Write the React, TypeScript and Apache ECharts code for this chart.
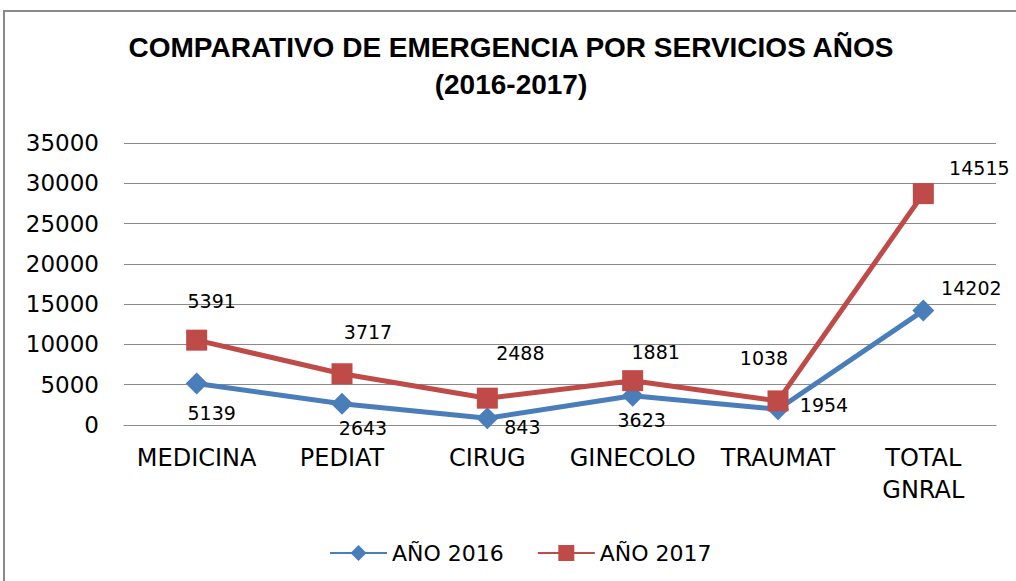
import React, { useEffect, useRef } from "react";
import * as echarts from "echarts";

const categories = ["MEDICINA", "PEDIAT", "CIRUG", "GINECOLO", "TRAUMAT", "TOTAL\nGNRAL"];
const year2016 = [5139, 2643, 843, 3623, 1954, 14202];
const year2017 = [5391, 3717, 2488, 1881, 1038, 14515];
const seriesNames = ["AÑO 2016", "AÑO 2017"];
const yTicks = { min: 0, max: 35000, interval: 5000 };

// label offsets (layout only)
const offs2016 = [[15, 29], [21, 24], [35, 9], [9, 24], [46, -4], [48, -23]];
const offs2017 = [[15, -39], [26, -42], [33, -45], [23, -29], [-14, -43], [56, -26]];

const BLUE = "#4A7EBB";
const RED = "#BE4B48";
const FONT = "DejaVu Sans";

export default function App() {
  const ref = useRef<HTMLDivElement>(null);
  useEffect(() => {
    const chart = echarts.init(ref.current!, null, { renderer: "svg" });
    const mk = (vals: number[], offs: number[][]) =>
      vals.map((v, i) => ({
        value: v,
        label: { offset: offs[i] },
      }));
    chart.setOption({
      animation: false,
      backgroundColor: "#ffffff",
      graphic: [
        {
          type: "rect",
          shape: { x: 4, y: 11, width: 1100, height: 700 },
          style: { fill: "none", stroke: "#8a8a8a", lineWidth: 2 },
          silent: true,
        },
      ],
      title: {
        text: "COMPARATIVO DE EMERGENCIA POR SERVICIOS AÑOS\n(2016-2017)",
        left: 506,
        textAlign: "center",
        top: 24,
        textStyle: {
          fontFamily: "Liberation Sans",
          fontWeight: "bold",
          fontSize: 28,
          lineHeight: 37,
          color: "#000",
        },
      },
      legend: {
        left: 324,
        top: 537,
        itemWidth: 57,
        itemHeight: 20,
        itemGap: 33,
        textStyle: { fontFamily: FONT, fontSize: 22, color: "#000" },
        data: seriesNames,
      },
      grid: { left: 124, right: 20, top: 143, bottom: 156, containLabel: false },
      xAxis: {
        type: "category",
        data: categories,
        boundaryGap: true,
        axisLine: { lineStyle: { color: "#8a8a8a", width: 1 } },
        axisTick: { show: false },
        axisLabel: {
          fontFamily: FONT,
          fontSize: 24,
          color: "#000",
          margin: 17,
          lineHeight: 32,
          interval: 0,
        },
      },
      yAxis: {
        type: "value",
        min: yTicks.min,
        max: yTicks.max,
        interval: yTicks.interval,
        axisLine: { show: false },
        axisTick: { show: false },
        splitLine: { lineStyle: { color: "#8a8a8a", width: 1 } },
        axisLabel: {
          fontFamily: FONT,
          fontSize: 23,
          color: "#000",
          margin: 25,
          formatter: (v: number) => String(v),
        },
      },
      series: [
        {
          name: seriesNames[0],
          type: "line",
          stack: "total",
          data: mk(year2016, offs2016),
          symbol: "diamond",
          symbolSize: 22,
          lineStyle: { color: BLUE, width: 5 },
          itemStyle: { color: BLUE },
          label: {
            show: true,
            position: "inside",
            fontFamily: FONT,
            fontSize: 19,
            color: "#000",
          },
          z: 3,
        },
        {
          name: seriesNames[1],
          type: "line",
          stack: "total",
          data: mk(year2017, offs2017),
          symbol: "rect",
          symbolSize: 21,
          lineStyle: { color: RED, width: 5 },
          itemStyle: { color: RED },
          label: {
            show: true,
            position: "inside",
            fontFamily: FONT,
            fontSize: 19,
            color: "#000",
          },
          z: 4,
        },
      ],
    });
    return () => chart.dispose();
  }, []);
  return (
    <div
      ref={ref}
      style={{ position: "fixed", left: 0, top: 0, width: 1016, height: 581 }}
    />
  );
}
